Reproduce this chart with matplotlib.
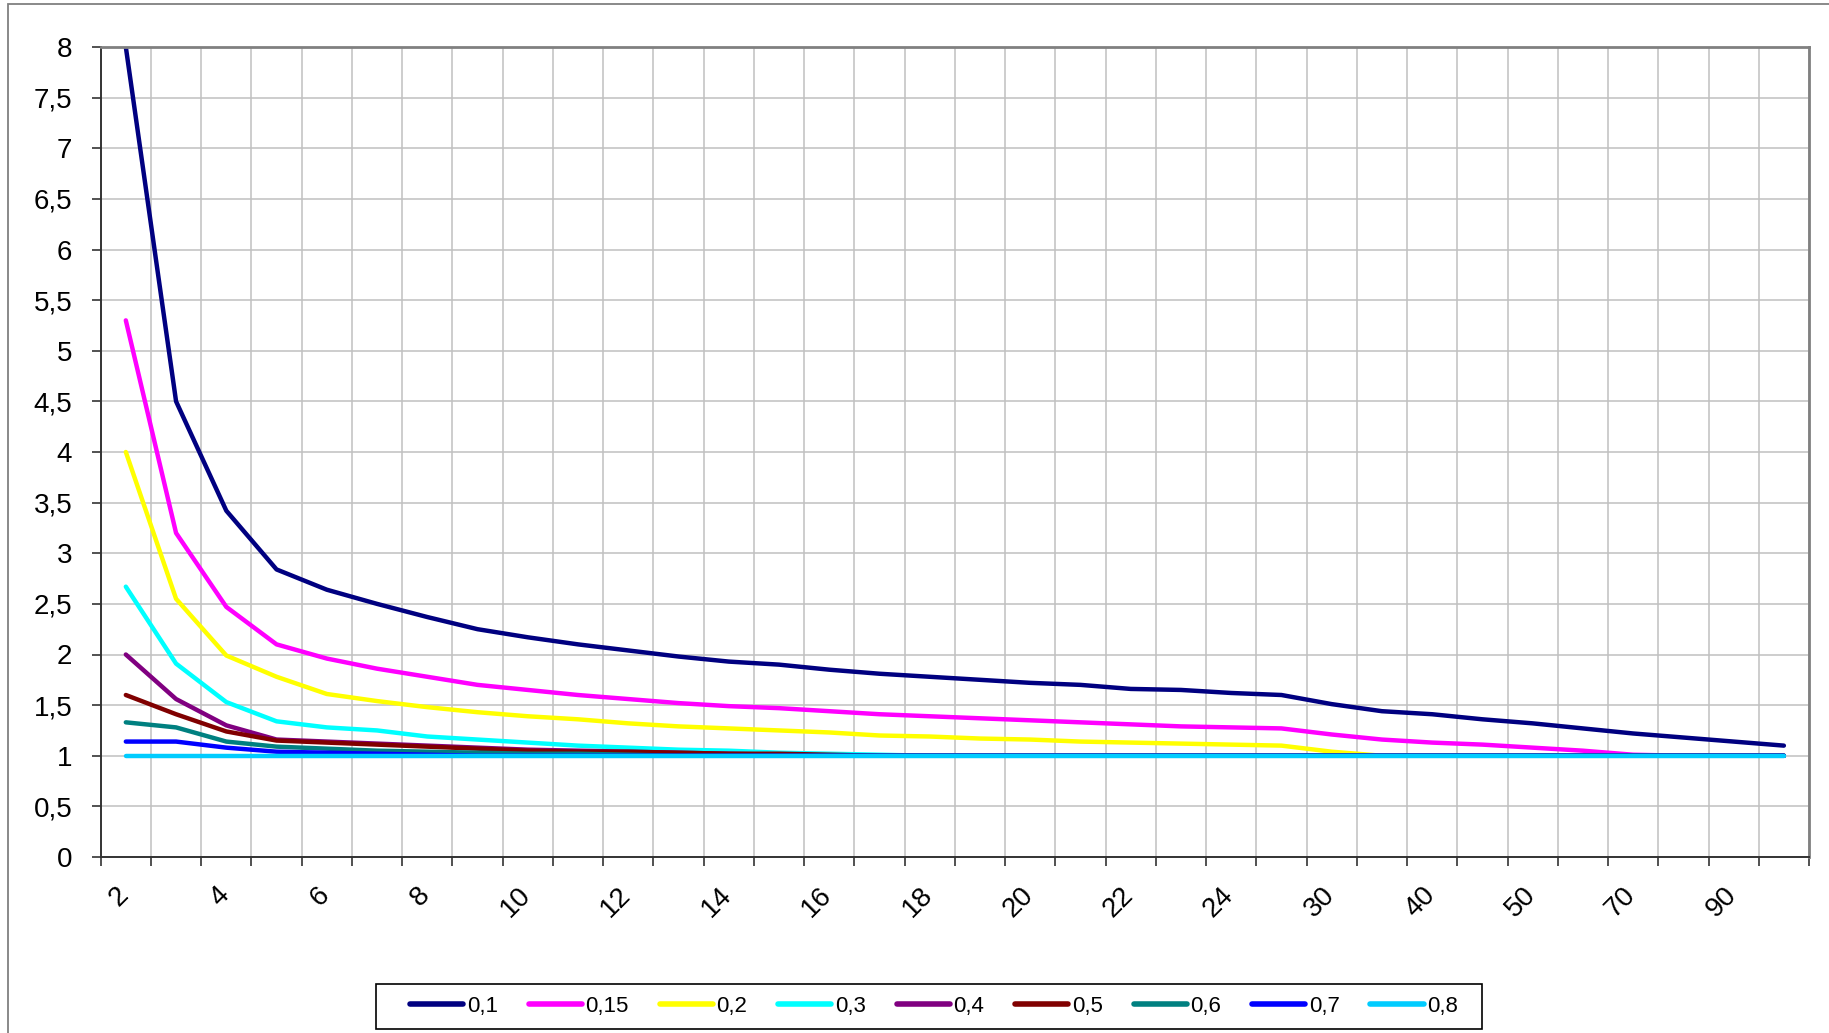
import matplotlib
matplotlib.use("Agg")
import matplotlib.pyplot as plt
from matplotlib.patches import Rectangle
from matplotlib.transforms import ScaledTranslation

plt.rcParams['font.family'] = ['Liberation Sans', 'DejaVu Sans']

# categories on the x axis (equally spaced, Excel category axis)
categories = [2, 3, 4, 5, 6, 7, 8, 9, 10, 11, 12, 13, 14, 15, 16, 17, 18, 19,
              20, 21, 22, 23, 24, 25, 30, 35, 40, 45, 50, 60, 70, 80, 90, 100]

series_names = ["0,1", "0,15", "0,2", "0,3", "0,4", "0,5", "0,6", "0,7", "0,8"]
series_colors = ["#000080", "#FF00FF", "#FFFF00", "#00FFFF", "#800080",
                 "#800000", "#008080", "#0000FF", "#00CCFF"]

s01 = [8.0, 4.5, 3.42, 2.84, 2.64, 2.50, 2.37, 2.25, 2.17, 2.10, 2.04, 1.98,
       1.93, 1.90, 1.85, 1.81, 1.78, 1.75, 1.72, 1.70, 1.66, 1.65, 1.62, 1.60,
       1.51, 1.44, 1.41, 1.36, 1.32, 1.27, 1.22, 1.18, 1.14, 1.10]
s015 = [5.3, 3.2, 2.47, 2.10, 1.96, 1.86, 1.78, 1.70, 1.65, 1.60, 1.56, 1.52,
        1.49, 1.47, 1.44, 1.41, 1.39, 1.37, 1.35, 1.33, 1.31, 1.29, 1.28, 1.27,
        1.21, 1.16, 1.13, 1.11, 1.08, 1.05, 1.01, 1.0, 1.0, 1.0]
s02 = [4.0, 2.55, 1.99, 1.78, 1.61, 1.54, 1.48, 1.43, 1.39, 1.36, 1.32, 1.29,
       1.27, 1.25, 1.23, 1.20, 1.19, 1.17, 1.16, 1.14, 1.13, 1.12, 1.11, 1.10,
       1.04, 1.0, 1.0, 1.0, 1.0, 1.0, 1.0, 1.0, 1.0, 1.0]
s03 = [2.67, 1.91, 1.53, 1.34, 1.28, 1.25, 1.19, 1.16, 1.13, 1.10, 1.08, 1.06,
       1.05, 1.03, 1.02, 1.01, 1.0, 1.0, 1.0, 1.0, 1.0, 1.0, 1.0, 1.0,
       1.0, 1.0, 1.0, 1.0, 1.0, 1.0, 1.0, 1.0, 1.0, 1.0]
s04 = [2.0, 1.56, 1.30, 1.16, 1.14, 1.12, 1.10, 1.08, 1.06, 1.05, 1.04, 1.03,
       1.02, 1.01, 1.0, 1.0, 1.0, 1.0, 1.0, 1.0, 1.0, 1.0, 1.0, 1.0,
       1.0, 1.0, 1.0, 1.0, 1.0, 1.0, 1.0, 1.0, 1.0, 1.0]
s05 = [1.60, 1.41, 1.24, 1.15, 1.13, 1.11, 1.09, 1.07, 1.05, 1.04, 1.04, 1.03,
       1.02, 1.02, 1.01, 1.0, 1.0, 1.0, 1.0, 1.0, 1.0, 1.0, 1.0, 1.0,
       1.0, 1.0, 1.0, 1.0, 1.0, 1.0, 1.0, 1.0, 1.0, 1.0]
s06 = [1.33, 1.28, 1.14, 1.09, 1.07, 1.05, 1.04, 1.03, 1.02, 1.02, 1.01, 1.0,
       1.0, 1.0, 1.0, 1.0, 1.0, 1.0, 1.0, 1.0, 1.0, 1.0, 1.0, 1.0,
       1.0, 1.0, 1.0, 1.0, 1.0, 1.0, 1.0, 1.0, 1.0, 1.0]
s07 = [1.14, 1.14, 1.08, 1.04, 1.03, 1.02, 1.01, 1.0, 1.0, 1.0, 1.0, 1.0,
       1.0, 1.0, 1.0, 1.0, 1.0, 1.0, 1.0, 1.0, 1.0, 1.0, 1.0, 1.0,
       1.0, 1.0, 1.0, 1.0, 1.0, 1.0, 1.0, 1.0, 1.0, 1.0]
s08 = [1.0, 1.0, 1.0, 1.0, 1.0, 1.0, 1.0, 1.0, 1.0, 1.0, 1.0, 1.0,
       1.0, 1.0, 1.0, 1.0, 1.0, 1.0, 1.0, 1.0, 1.0, 1.0, 1.0, 1.0,
       1.0, 1.0, 1.0, 1.0, 1.0, 1.0, 1.0, 1.0, 1.0, 1.0]

all_series = [s01, s015, s02, s03, s04, s05, s06, s07, s08]

W, H = 1829, 1033
fig = plt.figure(figsize=(W / 100, H / 100), dpi=100)
ax = fig.add_axes([100.7 / W, 1 - 857 / H, (1809 - 100.7) / W, (857 - 47) / H])

x = list(range(len(categories)))
for vals, name, col in zip(all_series, series_names, series_colors):
    ax.plot(x, vals, color=col, lw=3.2, label=name,
            solid_capstyle="round", solid_joinstyle="round")

ax.set_xlim(-0.5, len(categories) - 0.5)
ax.set_ylim(0, 8)

# y axis
yt = [i * 0.5 for i in range(17)]
ax.set_yticks(yt)
ax.set_yticklabels([("%g" % v).replace(".", ",") for v in yt], fontsize=20)
ax.tick_params(axis="y", length=6.5, width=1.2, pad=14, color="#333333")

# x axis: labels at category centres, ticks at category boundaries
ax.set_xticks(x[::2])
ax.set_xticklabels([str(c) for c in categories[::2]], fontsize=20,
                   rotation=45, ha="right", va="top")
ax.set_xticks([i - 0.5 for i in range(len(categories) + 1)], minor=True)
ax.tick_params(axis="x", which="major", length=0, pad=18)
ax.tick_params(axis="x", which="minor", length=6.5, width=1.2, color="#333333")
offset = ScaledTranslation(8 / 100, 0, fig.dpi_scale_trans)
for lab in ax.get_xticklabels():
    lab.set_transform(lab.get_transform() + offset)

ax.grid(True, axis="y", which="major", color="#c0c0c0", lw=1.1)
ax.grid(True, axis="x", which="minor", color="#c0c0c0", lw=1.1)
ax.set_axisbelow(True)

ax.spines["left"].set_color("#333333")
ax.spines["bottom"].set_color("#333333")
ax.spines["left"].set_linewidth(1.4)
ax.spines["bottom"].set_linewidth(1.4)
ax.spines["top"].set_color("#808080")
ax.spines["right"].set_color("#808080")
ax.spines["top"].set_linewidth(2.0)
ax.spines["right"].set_linewidth(2.0)

# legend: entries spread evenly, frame drawn separately
leg = fig.legend(loc="center", ncol=9, fontsize=16,
                 bbox_to_anchor=(410 / W, 1 - 1029 / H, (1458 - 410) / W, 45 / H),
                 mode="expand", handlelength=2.4, handletextpad=0.15,
                 borderaxespad=0, borderpad=0, frameon=False)
for ln in leg.get_lines():
    ln.set_linewidth(4.0)
    ln.set_solid_capstyle("round")
fig.add_artist(Rectangle((375.7 / W, 1 - 1029 / H), (1482 - 375.7) / W, 45 / H,
                         transform=fig.transFigure, fill=False,
                         edgecolor="black", lw=1.2))

# outer chart border (top and left visible)
fig.add_artist(Rectangle((8 / W, -0.1), 1.2, 1.1 - 4 / H, transform=fig.transFigure,
                         fill=False, edgecolor="#808080", lw=1.3))

fig.savefig("out.png", dpi=100)
